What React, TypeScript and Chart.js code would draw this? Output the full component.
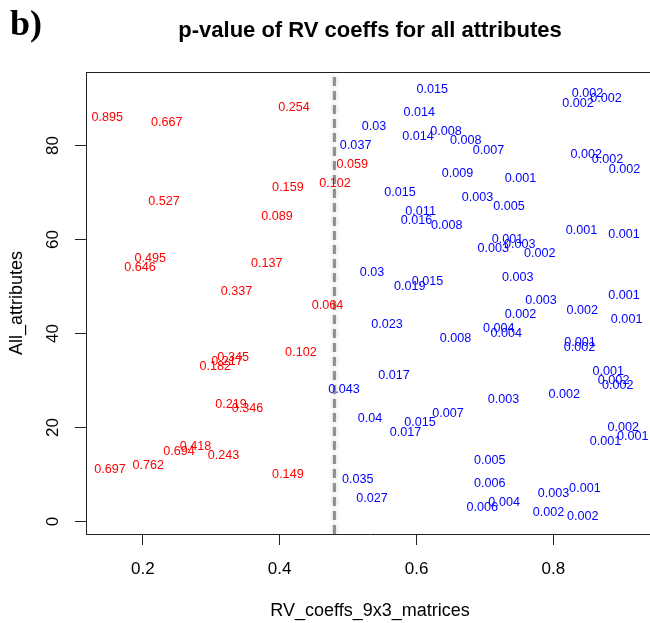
import React, { useEffect, useRef } from "react";
import { Chart, registerables } from "chart.js";

Chart.register(...registerables);

// Attribute index (vertical position) of each RV coefficient
const attributeIndex = [
  1, 2, 3, 4, 5, 6, 7, 8, 9, 10,
  11, 12, 13, 14, 15, 16, 17, 18, 19, 20,
  21, 22, 23, 24, 25, 26, 27, 28, 29, 30,
  31, 32, 33, 34, 35, 36, 37, 38, 39, 40,
  41, 42, 43, 44, 45, 46, 47, 48, 49, 50,
  51, 52, 53, 54, 55, 56, 57, 58, 59, 60,
  61, 62, 63, 64, 65, 66, 67, 68, 69, 70,
  71, 72, 73, 74, 75, 76, 77, 78, 79, 80,
  81, 82, 83, 84, 85, 86, 87, 88, 89, 90,
  91, 92,
];

// RV coefficient of each 9x3 matrix pair
const rvCoeffs = [
  0.843, 0.793, 0.696, 0.728, 0.535, 0.800, 0.846, 0.707, 0.514, 0.412,
  0.152, 0.208, 0.707, 0.318, 0.253, 0.277, 0.876, 0.916, 0.584, 0.902,
  0.605, 0.532, 0.646, 0.353, 0.329, 0.727, 0.816, 0.494, 0.894, 0.888,
  0.567, 0.880, 0.306, 0.323, 0.332, 0.431, 0.838, 0.839, 0.657, 0.731,
  0.720, 0.557, 0.907, 0.752, 0.842, 0.470, 0.782, 0.903, 0.337, 0.590,
  0.616, 0.748, 0.535, 0.196, 0.381, 0.211, 0.780, 0.712, 0.751, 0.733,
  0.903, 0.841, 0.644, 0.600, 0.396, 0.606, 0.735, 0.231, 0.689, 0.576,
  0.412, 0.481, 0.752, 0.660, 0.904, 0.506, 0.879, 0.848, 0.705, 0.511,
  0.672, 0.602, 0.643, 0.538, 0.235, 0.148, 0.604, 0.421, 0.836, 0.877,
  0.850, 0.623,
];

// Permutation test p-value printed at each coefficient
const pValueLabels = [
  "0.002", "0.002", "0.006", "0.004", "0.027", "0.003", "0.001", "0.006", "0.035", "0.149",
  "0.697", "0.762", "0.005", "0.243", "0.694", "0.418", "0.001", "0.001", "0.017", "0.002",
  "0.015", "0.04", "0.007", "0.346", "0.219", "0.003", "0.002", "0.043", "0.002", "0.002",
  "0.017", "0.001", "0.182", "0.217", "0.345", "0.102", "0.002", "0.001", "0.008", "0.004",
  "0.004", "0.023", "0.001", "0.002", "0.002", "0.064", "0.003", "0.001", "0.337", "0.019",
  "0.015", "0.003", "0.03", "0.646", "0.137", "0.495", "0.002", "0.003", "0.003", "0.001",
  "0.001", "0.001", "0.008", "0.016", "0.089", "0.011", "0.005", "0.527", "0.003", "0.015",
  "0.159", "0.102", "0.001", "0.009", "0.002", "0.059", "0.002", "0.002", "0.007", "0.037",
  "0.008", "0.014", "0.008", "0.03", "0.667", "0.895", "0.014", "0.254", "0.002", "0.002",
  "0.002", "0.015",
];

const xTicks = [0.2, 0.4, 0.6, 0.8];
const yTicks = [0, 20, 40, 60, 80];
const xRange = [0.117, 0.947];
const yRange = [-2.64, 95.64];
const rvCutoff = 0.48;
const significance = 0.05;

const chartTitle = "p-value of RV coeffs for all attributes";
const panelTag = "b)";
const xTitle = "RV_coeffs_9x3_matrices";
const yTitle = "All_attributes";

const SANS = '"Liberation Sans", Arial, Helvetica, sans-serif';
const AXIS_COLOR = "#222";

const cutoffGlow = {
  id: "cutoffGlow",
  beforeDatasetDraw(chart: any, args: any) {
    if (args.index !== 0) return;
    chart.ctx.save();
    chart.ctx.shadowColor = "rgba(150,150,150,0.55)";
    chart.ctx.shadowBlur = 4;
  },
  afterDatasetDraw(chart: any, args: any) {
    if (args.index !== 0) return;
    chart.ctx.restore();
  },
};

const pValueText = {
  id: "pValueText",
  afterDatasetsDraw(chart: any) {
    const ctx = chart.ctx;
    const meta = chart.getDatasetMeta(1);
    ctx.save();
    ctx.font = `12.6px ${SANS}`;
    ctx.textAlign = "center";
    ctx.textBaseline = "middle";
    meta.data.forEach((el: any, i: number) => {
      const p = parseFloat(pValueLabels[i]);
      ctx.fillStyle = p > significance ? "#ff0000" : "#0000ff";
      ctx.fillText(pValueLabels[i], el.x, el.y);
    });
    ctx.restore();
  },
};

const frameAndHeading = {
  id: "frameAndHeading",
  afterDraw(chart: any) {
    const ctx = chart.ctx;
    const { left, right, top } = chart.chartArea;
    ctx.save();
    ctx.strokeStyle = AXIS_COLOR;
    ctx.lineWidth = 1;
    ctx.beginPath();
    ctx.moveTo(left, Math.round(top) + 0.5);
    ctx.lineTo(right, Math.round(top) + 0.5);
    ctx.stroke();

    ctx.fillStyle = "#000";
    ctx.textBaseline = "alphabetic";
    ctx.textAlign = "left";
    ctx.font = 'bold 36px "Liberation Serif", "Times New Roman", serif';
    ctx.fillText(panelTag, 10, 35);

    ctx.textAlign = "center";
    ctx.font = `bold 22px ${SANS}`;
    ctx.fillText(chartTitle, (left + right) / 2, 37);
    ctx.restore();
  },
};

export default function App() {
  const canvasRef = useRef<HTMLCanvasElement | null>(null);

  useEffect(() => {
    const canvas = canvasRef.current;
    if (!canvas) return;
    Chart.defaults.font.family = SANS;

    const chart = new Chart(canvas, {
      type: "scatter",
      data: {
        datasets: [
          {
            data: [
              { x: rvCutoff, y: yRange[0] },
              { x: rvCutoff, y: yRange[1] },
            ],
            showLine: true,
            borderColor: "#8e8e8e",
            borderWidth: 3,
            borderDash: [9, 5],
            pointRadius: 0,
            pointHoverRadius: 0,
          },
          {
            data: rvCoeffs.map((x, i) => ({ x, y: attributeIndex[i] })),
            pointRadius: 0,
            pointHoverRadius: 0,
            backgroundColor: "transparent",
            borderColor: "transparent",
          },
        ],
      },
      options: {
        responsive: false,
        animation: false,
        devicePixelRatio: 1,
        events: [],
        layout: { padding: { top: 72, right: 8, bottom: 0, left: 0 } },
        plugins: {
          legend: { display: false },
          tooltip: { enabled: false },
          title: { display: false },
        },
        scales: {
          x: {
            type: "linear",
            position: "bottom",
            min: xRange[0],
            max: xRange[1],
            afterBuildTicks: (s: any) => {
              s.ticks = xTicks.map((v) => ({ value: v }));
            },
            afterFit: (s: any) => {
              s.height = 89;
            },
            grid: {
              drawOnChartArea: false,
              drawTicks: true,
              tickLength: 11,
              color: AXIS_COLOR,
              lineWidth: 1,
            },
            border: { display: true, color: AXIS_COLOR, width: 1 },
            ticks: {
              font: { size: 17 },
              color: "#000",
              padding: 14,
              maxRotation: 0,
              minRotation: 0,
              autoSkip: false,
              callback: (v: any) => String(v),
            },
            title: {
              display: true,
              text: xTitle,
              font: { size: 18 },
              color: "#000",
              padding: { top: 0, bottom: 1 },
            },
          },
          y: {
            type: "linear",
            position: "left",
            min: yRange[0],
            max: yRange[1],
            afterBuildTicks: (s: any) => {
              s.ticks = yTicks.map((v) => ({ value: v }));
            },
            afterFit: (s: any) => {
              s.width = 86;
            },
            grid: {
              drawOnChartArea: false,
              drawTicks: true,
              tickLength: 11,
              color: AXIS_COLOR,
              lineWidth: 1,
            },
            border: { display: true, color: AXIS_COLOR, width: 1 },
            ticks: {
              font: { size: 17 },
              color: "#000",
              padding: 12,
              minRotation: 90,
              maxRotation: 90,
              crossAlign: "center",
              autoSkip: false,
              callback: (v: any) => String(v),
            },
            title: {
              display: true,
              text: yTitle,
              font: { size: 18 },
              color: "#000",
              padding: { top: 6, bottom: 0 },
            },
          },
        },
      },
      plugins: [cutoffGlow, pValueText, frameAndHeading],
    } as any);

    return () => chart.destroy();
  }, []);

  return (
    <div
      style={{
        position: "fixed",
        left: 0,
        top: 0,
        width: 650,
        height: 623,
        overflow: "hidden",
        background: "#fff",
      }}
    >
      <canvas
        ref={canvasRef}
        width={662}
        height={623}
        style={{ display: "block", width: 662, height: 623 }}
      />
    </div>
  );
}
